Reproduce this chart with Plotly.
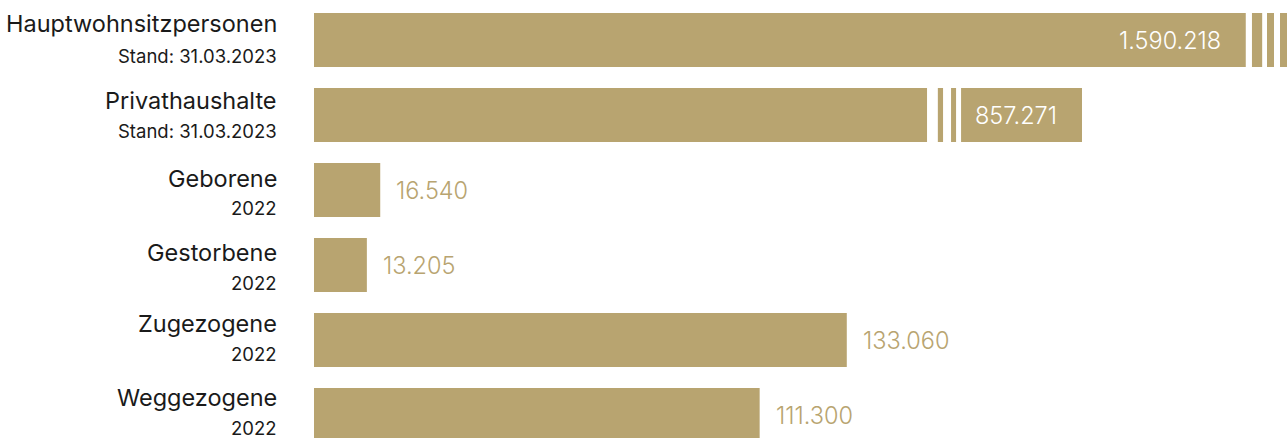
import plotly.graph_objects as go

# ---------------- data ----------------
categories = ["Hauptwohnsitzpersonen", "Privathaushalte", "Geborene",
              "Gestorbene", "Zugezogene", "Weggezogene"]
sublabels = ["Stand: 31.03.2023", "Stand: 31.03.2023", "2022",
             "2022", "2022", "2022"]
values = [1590218, 857271, 16540, 13205, 133060, 111300]

# ---------------- style ----------------
BAR = "#B8A470"
TXT = "#1a1a1a"
FONT = "Inter"
AX_MAX = 243000          # visible axis range (scale break beyond)
# truncated display length for bars that exceed the visible range
display_len = {0: 250000, 1: 191800}
# white break gaps (axis units) for truncated bars
break_gaps = {
    0: [(232700, 234250), (236800, 238000), (239750, 241250)],
    1: [(153100, 155800), (157100, 159100), (160350, 161600)],
}
label_end = {0: 232700, 1: 191800}
main_shift = [-16.5, -15, -11.5, -12.5, -16.5, -17.5]
sub_shift = [15.5, 16, 18, 18, 14, 13]

def fmt(v):
    return f"{v:,}".replace(",", ".")

n = len(categories)
ypos = list(range(n))
shown = [min(v, display_len.get(i, v)) for i, v in enumerate(values)]

fig = go.Figure(go.Bar(
    x=shown, y=ypos, orientation="h", width=0.72,
    marker=dict(color=BAR, line=dict(width=0)),
    hoverinfo="skip", cliponaxis=True,
))

shapes = []
for i, gaps in break_gaps.items():
    for x0, x1 in gaps:
        shapes.append(dict(type="rect", xref="x", yref="y", x0=x0, x1=x1,
                           y0=i - 0.4, y1=i + 0.4, fillcolor="white",
                           line=dict(width=0), layer="above"))

ann = []
for i in range(n):
    ann.append(dict(x=0, y=i, xref="x", yref="y", text=categories[i],
                    xanchor="right", yanchor="middle", xshift=-35,
                    yshift=-main_shift[i], showarrow=False,
                    font=dict(family=FONT, size=23.5, color=TXT)))
    ann.append(dict(x=0, y=i, xref="x", yref="y", text=sublabels[i],
                    xanchor="right", yanchor="middle", xshift=-35,
                    yshift=-sub_shift[i], showarrow=False,
                    font=dict(family=FONT, size=18.5, color=TXT)))
    if i in label_end:
        ann.append(dict(x=label_end[i], y=i, xref="x", yref="y", text=fmt(values[i]),
                        xanchor="right", yanchor="middle", xshift=-23,
                        showarrow=False,
                        font=dict(family=FONT, size=23.5, color="white", weight=300)))
    else:
        ann.append(dict(x=values[i], y=i, xref="x", yref="y", text=fmt(values[i]),
                        xanchor="left", yanchor="middle", xshift=14,
                        showarrow=False,
                        font=dict(family=FONT, size=23.5, color=BAR, weight=300)))

fig.update_layout(
    width=1287, height=438,
    margin=dict(l=314, r=0, t=0, b=0),
    paper_bgcolor="white", plot_bgcolor="white",
    showlegend=False,
    xaxis=dict(range=[0, AX_MAX], visible=False, fixedrange=True),
    yaxis=dict(range=[5.3067, -0.5333], visible=False, fixedrange=True),
    shapes=shapes, annotations=ann,
)

fig.write_html("out.html", config={"displayModeBar": False})
